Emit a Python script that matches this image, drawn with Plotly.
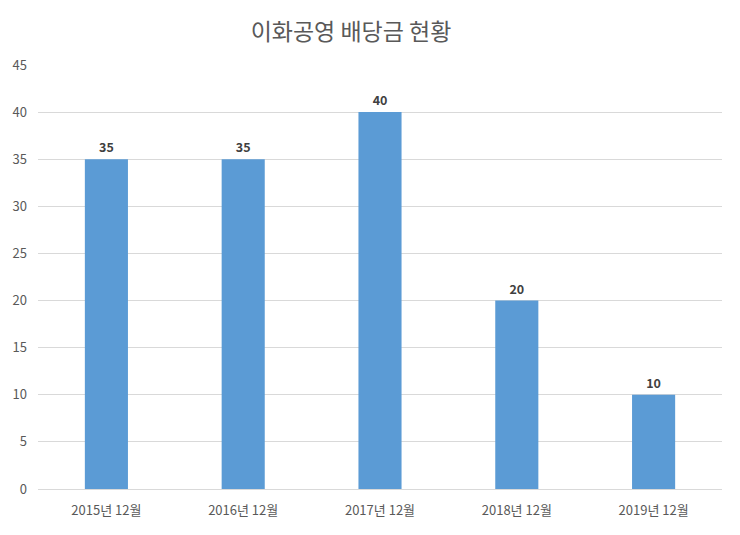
import plotly.graph_objects as go

categories = ["2015년 12월", "2016년 12월", "2017년 12월", "2018년 12월", "2019년 12월"]
values = [35, 35, 40, 20, 10]
y_ticks = [0, 5, 10, 15, 20, 25, 30, 35, 40, 45]

font_family = "Noto Sans CJK KR, Noto Sans, sans-serif"

fig = go.Figure(
    go.Bar(
        x=categories,
        y=values,
        width=0.315,
        marker=dict(color="#5B9BD5", line=dict(width=0)),
        text=[str(v) for v in values],
        textposition="outside",
        textfont=dict(family=font_family, size=12.5, color="#404040", weight="bold"),
        cliponaxis=False,
    )
)

fig.update_layout(
    width=740,
    height=535,
    margin=dict(l=38, r=18, t=65, b=46),
    paper_bgcolor="white",
    plot_bgcolor="white",
    showlegend=False,
    title=dict(
        text="이화공영 배당금 현황",
        x=351 / 740,
        xref="container",
        xanchor="center",
        y=1 - 32 / 535,
        yref="container",
        yanchor="middle",
        font=dict(family=font_family, size=23, color="#595959"),
    ),
    font=dict(family=font_family, size=13, color="#595959"),
)

fig.update_yaxes(
    range=[0, 45],
    tickvals=y_ticks,
    showgrid=True,
    gridcolor="#D9D9D9",
    gridwidth=1,
    zeroline=False,
    showline=False,
    ticklabelstandoff=10,
    tickfont=dict(size=13, color="#595959"),
)

fig.update_xaxes(
    showline=True,
    linecolor="#D9D9D9",
    linewidth=1,
    ticks="",
    ticklabelstandoff=9,
    tickfont=dict(size=13, color="#595959"),
)

fig.write_html("out.html")
